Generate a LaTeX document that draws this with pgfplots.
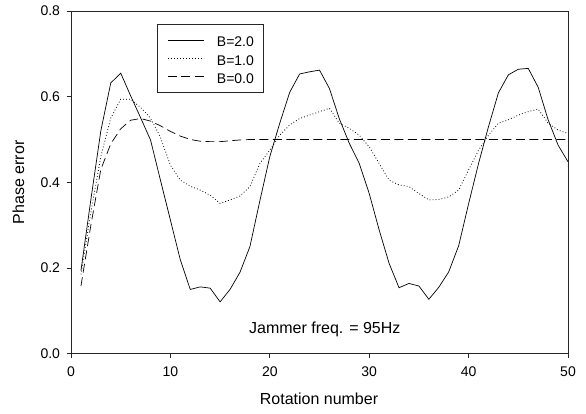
\documentclass[border=0pt]{standalone}
\usepackage{pgfplots}
\pgfplotsset{compat=1.18}
\usepackage{fontspec}
\setmainfont{Liberation Sans}
\usetikzlibrary{calc}
\begin{document}
\begin{tikzpicture}
\begin{axis}[
  name=ax,
  scale only axis,
  width=497pt, height=342.7pt,
  xmin=0, xmax=50, ymin=0, ymax=0.8,
  xtick={0,10,20,30,40,50},
  ytick={0,0.2,0.4,0.6,0.8},
  tick pos=left,
  tick align=outside,
  major tick length=4.5pt,
  axis line style={line width=0.9pt, black!85},
  every tick/.style={line width=0.9pt, black!85},
  /pgf/number format/assume math mode=true,
  yticklabel style={/pgf/number format/fixed, /pgf/number format/fixed zerofill, /pgf/number format/precision=1, font=\fontsize{14}{16}\selectfont, xshift=-3pt},
  xticklabel style={font=\fontsize{14}{16}\selectfont, yshift=-5pt},
  xlabel={Rotation number},
  ylabel={Phase error},
  every axis x label/.style={at={(axis description cs:0.499,-0.1468)}, anchor=base, font=\fontsize{16}{18}\selectfont},
  every axis y label/.style={at={(axis description cs:-0.1056,0.5)}, anchor=center, rotate=90, font=\fontsize{16}{18}\selectfont},
  legend cell align=left,
  legend image code/.code={\draw[#1] (0pt,0pt) -- (36pt,0pt);},
  legend style={at={(axis description cs:0.173,0.962)}, anchor=north west,
    draw=black!85, line width=0.9pt, font=\fontsize{14}{16}\selectfont,
    inner xsep=10pt, inner ysep=8.5pt, row sep=4.3pt,
    nodes={inner sep=0pt, text height=14pt, text depth=0pt},
    /tikz/every odd column/.append style={column sep=12.7pt}},
]
\addplot[black, line width=0.7pt] coordinates {
(1,0.194)(2,0.360)(3,0.520)(4,0.632)(5,0.655)(6,0.602)(7,0.551)(8,0.499)(9,0.405)(10,0.312)
(11,0.219)(12,0.150)(13,0.156)(14,0.153)(15,0.121)(16,0.150)(17,0.190)(18,0.250)(19,0.357)(20,0.460)
(21,0.538)(22,0.610)(23,0.653)(24,0.658)(25,0.662)(26,0.619)(27,0.548)(28,0.491)(29,0.444)(30,0.374)
(31,0.289)(32,0.211)(33,0.154)(34,0.164)(35,0.158)(36,0.127)(37,0.155)(38,0.191)(39,0.252)(40,0.350)
(41,0.444)(42,0.530)(43,0.609)(44,0.651)(45,0.664)(46,0.666)(47,0.622)(48,0.546)(49,0.487)(50,0.448)
};
\addlegendentry{B=2.0}
\addplot[black, line width=0.8pt, dash pattern=on 0.8pt off 2.2pt] coordinates {
(1,0.185)(2,0.33)(3,0.46)(4,0.55)(5,0.594)(6,0.594)(7,0.575)(8,0.55)(9,0.505)(10,0.44)
(11,0.405)(12,0.391)(13,0.382)(14,0.370)(15,0.351)(16,0.359)(17,0.368)(18,0.390)(19,0.444)(20,0.475)
(21,0.510)(22,0.534)(23,0.549)(24,0.557)(25,0.565)(26,0.573)(27,0.538)(28,0.526)(29,0.510)(30,0.483)
(31,0.444)(32,0.405)(33,0.394)(34,0.390)(35,0.374)(36,0.359)(37,0.360)(38,0.366)(39,0.382)(40,0.429)
(41,0.475)(42,0.510)(43,0.538)(44,0.546)(45,0.557)(46,0.565)(47,0.571)(48,0.538)(49,0.522)(50,0.514)
};
\addlegendentry{B=1.0}
\addplot[black, line width=0.7pt, dash pattern=on 9pt off 4.5pt] coordinates {
(1,0.158)(2,0.30)(3,0.43)(4,0.49)(5,0.525)(6,0.545)(7,0.549)(8,0.543)(9,0.532)(10,0.519)
(11,0.508)(12,0.500)(13,0.496)(14,0.495)(15,0.495)(16,0.497)(17,0.499)(18,0.500)(19,0.500)(20,0.500)
(21,0.500)(22,0.500)(23,0.500)(24,0.500)(25,0.500)(26,0.500)(27,0.500)(28,0.500)(29,0.500)(30,0.500)
(31,0.500)(32,0.500)(33,0.500)(34,0.500)(35,0.500)(36,0.500)(37,0.500)(38,0.500)(39,0.500)(40,0.500)
(41,0.500)(42,0.500)(43,0.500)(44,0.500)(45,0.500)(46,0.500)(47,0.500)(48,0.500)(49,0.500)(50,0.500)
};
\addlegendentry{B=0.0}
\node[anchor=base west, inner sep=0pt, font=\fontsize{16}{18}\selectfont] at (axis cs:17.9,0.048) {Jammer freq. = 95Hz};
\end{axis}
\path ($(ax.south west)+(-71pt,-60.3pt)$) rectangle ($(ax.north east)+(18pt,11pt)$);
\end{tikzpicture}
\end{document}
